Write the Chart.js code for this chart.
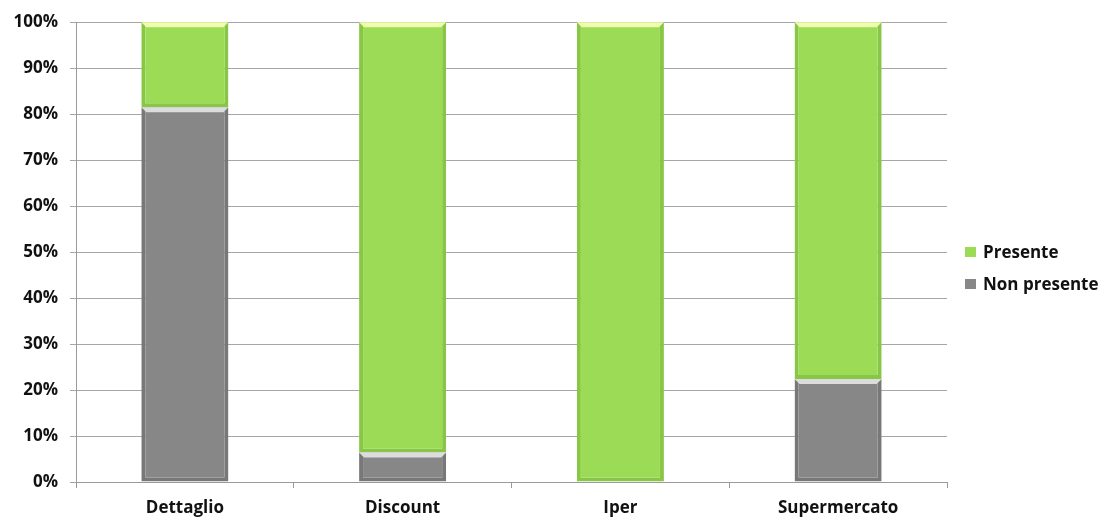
<!DOCTYPE html>
<html>
<head>
<meta charset="utf-8">
<script src="https://cdn.jsdelivr.net/npm/chart.js@4.4.0/dist/chart.umd.min.js"></script>
<style>
    html, body { margin: 0; padding: 0; background: #ffffff; }
    #wrap { position: relative; width: 1099px; height: 519px; }
    #legend { position: absolute; left: 965px; top: 236px; font-family: "Open Sans", sans-serif; font-weight: 700; font-size: 17px; color: #111; }
    .item { height: 32px; line-height: 24px; display: flex; align-items: center; }
    .box { width: 11px; height: 10px; margin-right: 7px; }
</style>
</head>
<body>
<div id="wrap">
    <canvas id="chart" width="1099" height="519"></canvas>
    <div id="legend"></div>
</div>
<script>
const categories = ['Dettaglio', 'Discount', 'Iper', 'Supermercato'];
const nonPresente = [81.5, 6.4, 0, 22.4];
const presente = [18.5, 93.6, 100, 77.6];
const yTicks = ['0%', '10%', '20%', '30%', '40%', '50%', '60%', '70%', '80%', '90%', '100%'];

const GREEN = '#9cdb56';
const GREEN_EDGE = '#88c646';
const GREEN_TOP = '#f0fcb0';
const GRAY = '#878787';
const GRAY_EDGE = '#787878';
const GRAY_TOP = '#dcdcdc';

const font = { family: '"Open Sans", sans-serif', weight: '700', size: 17 };

// striscia chiara in cima ad ogni barra (effetto smusso)
const bevelPlugin = {
    id: 'bevel',
    afterDatasetsDraw(chart) {
        const ctx = chart.ctx;
        chart.data.datasets.forEach((ds, i) => {
            const meta = chart.getDatasetMeta(i);
            meta.data.forEach((bar, j) => {
                if (!ds.data[j]) return;
                const left = bar.x - bar.width / 2;
                const right = bar.x + bar.width / 2;
                const top = Math.min(bar.y, bar.base);
                ctx.save();
                ctx.fillStyle = ds.topColor;
                ctx.beginPath();
                ctx.moveTo(left, top);
                ctx.lineTo(right, top);
                ctx.lineTo(right - 5, top + 5);
                ctx.lineTo(left + 5, top + 5);
                ctx.closePath();
                ctx.fill();
                ctx.restore();
            });
        });
    }
};

new Chart(document.getElementById('chart'), {
    type: 'bar',
    data: {
        labels: categories,
        datasets: [
            {
                label: 'Non presente',
                data: nonPresente,
                backgroundColor: GRAY,
                borderColor: GRAY_EDGE,
                borderWidth: { left: 4, right: 4, bottom: 4, top: 0 },
                borderSkipped: false,
                topColor: GRAY_TOP,
                barPercentage: 0.4,
                categoryPercentage: 1
            },
            {
                label: 'Presente',
                data: presente,
                backgroundColor: GREEN,
                borderColor: GREEN_EDGE,
                borderWidth: { left: 4, right: 4, bottom: 4, top: 0 },
                borderSkipped: false,
                topColor: GREEN_TOP,
                barPercentage: 0.4,
                categoryPercentage: 1
            }
        ]
    },
    options: {
        responsive: false,
        animation: false,
        layout: { padding: { top: 22, right: 152, left: 0, bottom: 0 } },
        plugins: {
            legend: { display: false },
            tooltip: { enabled: false }
        },
        scales: {
            x: {
                stacked: true,
                afterFit(s) { s.height = 37; },
                grid: { offset: true, drawOnChartArea: false, tickLength: 6, color: '#9a9a9a' },
                border: { color: '#9a9a9a' },
                ticks: { color: '#111', font: font, padding: 10 }
            },
            y: {
                stacked: true,
                min: 0,
                max: 100,
                afterFit(s) { s.width = 76; },
                grid: { tickLength: 6, color: '#a6a6a6' },
                border: { color: '#9a9a9a' },
                ticks: {
                    stepSize: 10,
                    color: '#111',
                    font: font,
                    padding: 12,
                    callback: (v) => yTicks[v / 10]
                }
            }
        }
    },
    plugins: [bevelPlugin]
});

// legenda
const legend = document.getElementById('legend');
[['Presente', GREEN], ['Non presente', GRAY]].forEach(([name, color]) => {
    const item = document.createElement('div');
    item.className = 'item';
    const box = document.createElement('span');
    box.className = 'box';
    box.style.background = color;
    item.appendChild(box);
    item.appendChild(document.createTextNode(name));
    legend.appendChild(item);
});
</script>
</body>
</html>
